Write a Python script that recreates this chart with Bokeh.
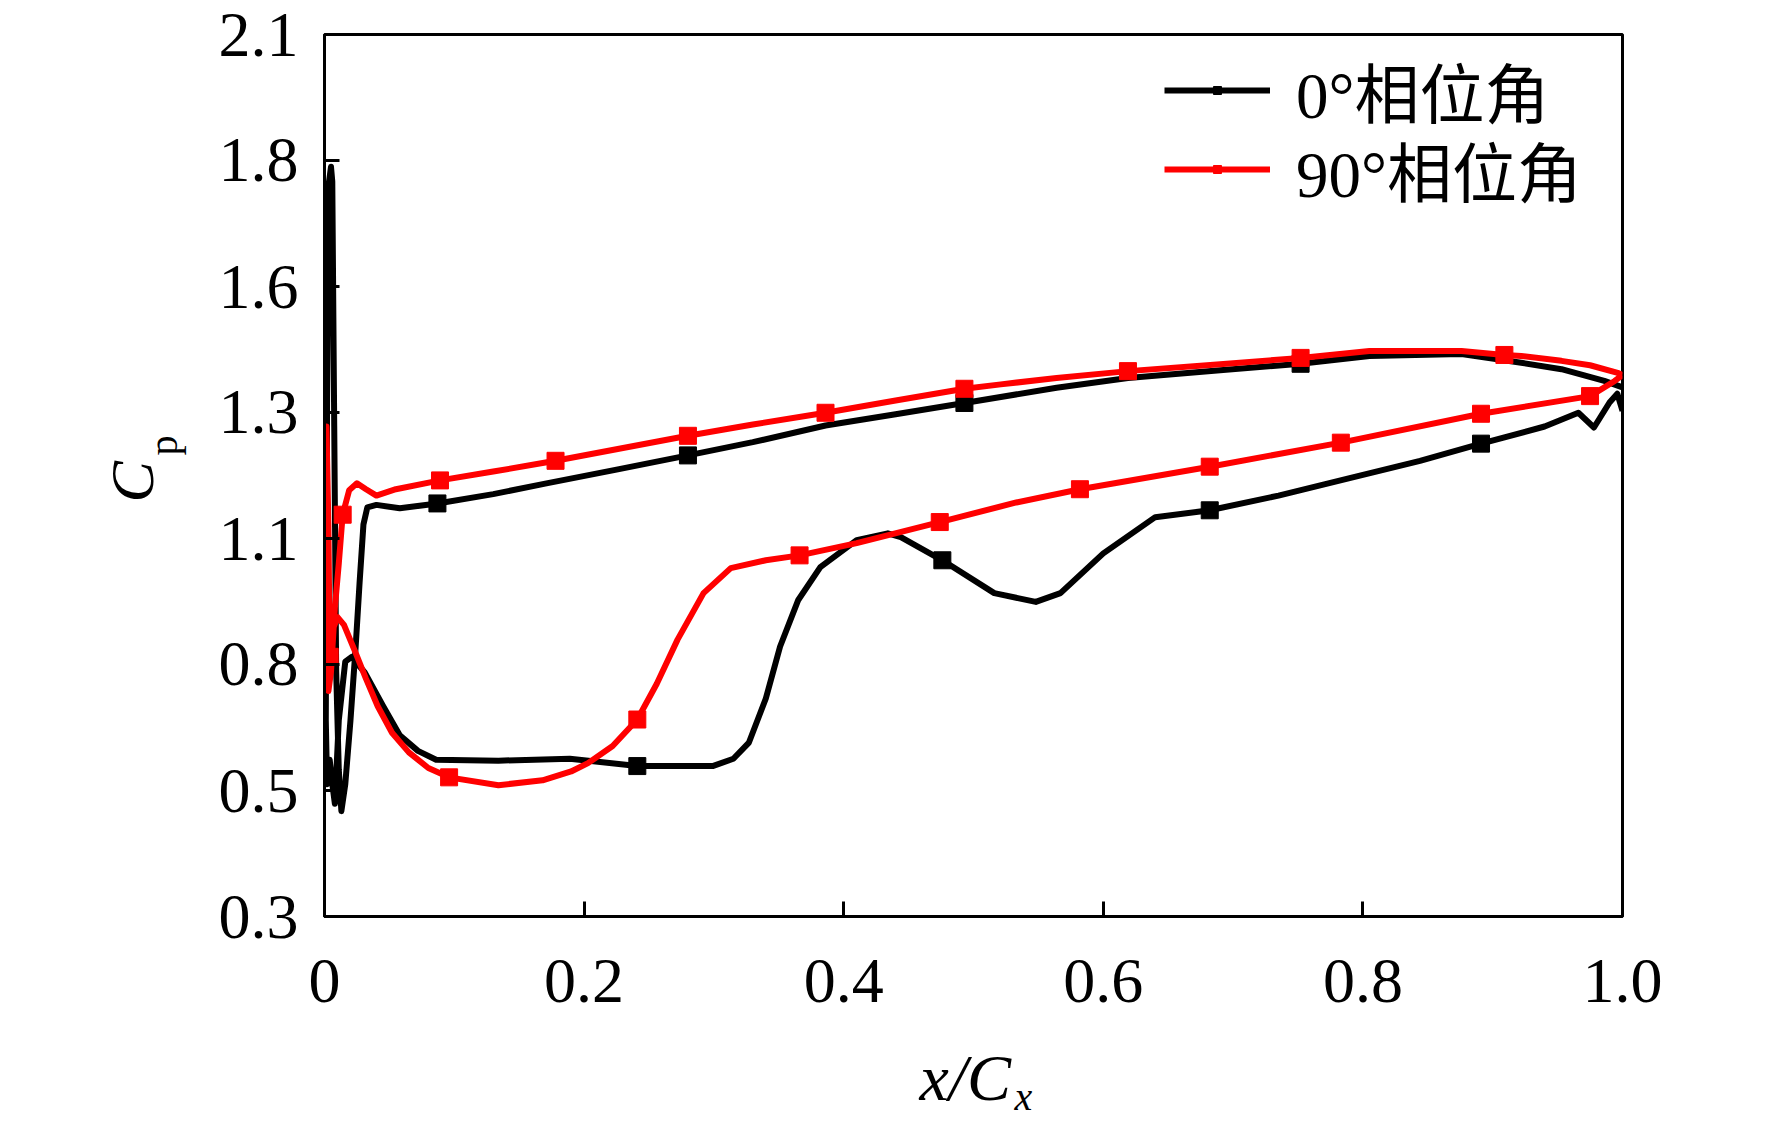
from bokeh.plotting import figure
from bokeh.models import Legend, LegendItem, Title, FixedTicker, Range1d, LinearAxis
from bokeh.embed import file_html
from bokeh.resources import INLINE

# ---- tick positions / labels ----
x_ticks = [0.0, 0.2, 0.4, 0.6, 0.8, 1.0]
x_tick_labels = ["0", "0.2", "0.4", "0.6", "0.8", "1.0"]
y_ticks = [0.3, 0.5571, 0.8143, 1.0714, 1.3286, 1.5857, 1.8429, 2.1]
y_tick_labels = ["0.3", "0.5", "0.8", "1.1", "1.3", "1.6", "1.8", "2.1"]

series_names = ["0°相位角", "90°相位角"]

# ---- 0 deg phase (black): closed loop TE -> upper -> LE -> lower -> TE ----
black_x = [1.000, 0.986, 0.953, 0.922, 0.876, 0.805, 0.752, 0.690, 0.619, 0.564,
           0.493, 0.440, 0.386, 0.330, 0.280, 0.225, 0.171, 0.130, 0.087, 0.058,
           0.040, 0.033, 0.030, 0.027, 0.024, 0.020, 0.016, 0.013, 0.011, 0.009,
           0.0075, 0.006, 0.005, 0.003, 0.002, 0.001, 0.002, 0.004, 0.006, 0.008,
           0.011, 0.016, 0.021, 0.031, 0.045, 0.058, 0.072, 0.086, 0.134, 0.189,
           0.241, 0.299, 0.315, 0.327, 0.340, 0.351, 0.365, 0.382, 0.410, 0.434,
           0.444, 0.476, 0.516, 0.548, 0.567, 0.600, 0.640, 0.682, 0.735, 0.789,
           0.844, 0.891, 0.940, 0.966, 0.978, 0.990, 0.996, 1.000]
black_y = [1.380, 1.393, 1.417, 1.430, 1.448, 1.444, 1.428, 1.415, 1.399, 1.379,
           1.348, 1.325, 1.302, 1.268, 1.241, 1.212, 1.184, 1.162, 1.143, 1.133,
           1.140, 1.135, 1.100, 0.980, 0.850, 0.700, 0.570, 0.515, 0.600, 0.800,
           1.300, 1.800, 1.830, 1.790, 1.350, 0.700, 0.570, 0.620, 0.570, 0.530,
           0.700, 0.820, 0.830, 0.798, 0.730, 0.670, 0.638, 0.620, 0.618, 0.622,
           0.607, 0.607, 0.622, 0.655, 0.745, 0.851, 0.946, 1.013, 1.068, 1.082,
           1.074, 1.027, 0.960, 0.942, 0.960, 1.041, 1.115, 1.129, 1.159, 1.194,
           1.230, 1.265, 1.300, 1.328, 1.298, 1.349, 1.367, 1.332]
black_mark_x = [0.087, 0.280, 0.493, 0.752, 0.241, 0.476, 0.682, 0.891]
black_mark_y = [1.143, 1.241, 1.348, 1.428, 0.607, 1.027, 1.129, 1.265]

# ---- 90 deg phase (red) ----
red_x = [1.000, 0.997, 0.975, 0.953, 0.922, 0.909, 0.876, 0.805, 0.752, 0.690,
         0.619, 0.564, 0.521, 0.493, 0.440, 0.386, 0.330, 0.280, 0.230, 0.178,
         0.130, 0.089, 0.055, 0.040, 0.032, 0.025, 0.019, 0.014, 0.011, 0.008,
         0.005, 0.003, 0.001, 0.0015, 0.003, 0.004, 0.007, 0.010, 0.015, 0.024,
         0.032, 0.041, 0.052, 0.065, 0.080, 0.096, 0.134, 0.168, 0.190, 0.203,
         0.222, 0.241, 0.256, 0.272, 0.292, 0.313, 0.340, 0.366, 0.410, 0.474,
         0.533, 0.582, 0.682, 0.783, 0.891, 0.975, 0.994, 1.000]
red_y = [1.405, 1.409, 1.425, 1.434, 1.444, 1.446, 1.454, 1.454, 1.440, 1.427,
         1.413, 1.399, 1.386, 1.377, 1.353, 1.328, 1.304, 1.281, 1.256, 1.230,
         1.208, 1.190, 1.172, 1.159, 1.172, 1.184, 1.170, 1.120, 1.020, 0.930,
         0.800, 0.760, 1.000, 1.300, 1.100, 0.830, 0.890, 0.911, 0.895, 0.838,
         0.785, 0.729, 0.675, 0.635, 0.603, 0.584, 0.568, 0.578, 0.596, 0.613,
         0.648, 0.702, 0.775, 0.865, 0.960, 1.011, 1.027, 1.037, 1.062, 1.105,
         1.145, 1.172, 1.218, 1.267, 1.326, 1.362, 1.393, 1.405]
red_mark_x = [0.014, 0.089, 0.178, 0.280, 0.386, 0.493, 0.619, 0.752, 0.909,
              0.004, 0.096, 0.241, 0.366, 0.474, 0.582, 0.682, 0.783, 0.891, 0.975]
red_mark_y = [1.120, 1.190, 1.230, 1.281, 1.328, 1.377, 1.413, 1.440, 1.446,
              0.830, 0.584, 0.702, 1.037, 1.105, 1.172, 1.218, 1.267, 1.326, 1.362]

SERIF = "Liberation Serif"
LEGEND_FONT = "'Liberation Serif', 'Noto Sans CJK SC'"
NB = "\u00a0"

FW, FH = 1298, 882
p = figure(frame_width=FW, frame_height=FH,
           x_range=Range1d(0, 1), y_range=Range1d(0.3, 2.1),
           output_backend="svg", toolbar_location=None,
           min_border_left=324, min_border_right=134,
           min_border_top=34, min_border_bottom=200)
p.grid.visible = False
p.outline_line_color = "black"
p.outline_line_width = 3
p.outline_line_alpha = 1.0
p.background_fill_color = "white"
p.border_fill_color = "white"

for ax in (p.xaxis[0], p.yaxis[0]):
    ax.axis_line_width = 3
    ax.major_tick_line_width = 3
    ax.major_tick_in = 15
    ax.major_tick_out = 0
    ax.minor_tick_line_color = None
    ax.major_label_text_font = SERIF
    ax.major_label_text_font_size = "64px"
    ax.major_label_text_color = "black"
    ax.axis_label_text_font = SERIF
    ax.axis_label_text_color = "black"

p.xaxis.ticker = FixedTicker(ticks=x_ticks)
p.xaxis.major_label_overrides = {t: s for t, s in zip(x_ticks, x_tick_labels)}
p.xaxis.major_label_standoff = 43
p.yaxis.ticker = FixedTicker(ticks=y_ticks)
p.yaxis.major_label_overrides = {t: s for t, s in zip(y_ticks, y_tick_labels)}
p.yaxis.major_label_standoff = 26

# x axis title "x/C" (italic) as axis label
p.xaxis.axis_label = "x/C" + NB
p.xaxis.axis_label_text_font_style = "italic"
p.xaxis.axis_label_text_font_size = "66px"
p.xaxis.axis_label_standoff = 36
# its italic subscript x: label of a bare extra axis below (no line, no ticks)
sub_axis = LinearAxis(ticker=FixedTicker(ticks=[]), axis_line_color=None,
                      major_tick_line_color=None, minor_tick_line_color=None,
                      axis_label=NB * 10 + "x", axis_label_text_font=SERIF,
                      axis_label_text_font_size="40px",
                      axis_label_text_font_style="italic",
                      axis_label_text_color="black", axis_label_standoff=-43)
p.add_layout(sub_axis, "below")

# y axis: upright subscript p as axis label, italic C as a title outside it
p.yaxis.axis_label = NB * 6 + "p"
p.yaxis.axis_label_text_font_style = "normal"
p.yaxis.axis_label_text_font_size = "40px"
p.yaxis.axis_label_standoff = 30

r_black = p.line(black_x, black_y, line_color="black", line_width=6, line_join="round")
s_black = p.scatter(black_mark_x, black_mark_y, marker="square", size=17,
                    fill_color="black", line_color="black")
r_red = p.line(red_x, red_y, line_color="#ff0000", line_width=6, line_join="round")
s_red = p.scatter(red_mark_x, red_mark_y, marker="square", size=17,
                  fill_color="#ff0000", line_color="#ff0000")

common = dict(orientation="vertical", glyph_width=106, glyph_height=20,
              label_standoff=26, label_height=20, spacing=0, padding=0, margin=0,
              border_line_alpha=0, background_fill_alpha=0,
              label_text_font=LEGEND_FONT, label_text_font_size="65px",
              label_text_color="black")
leg1 = Legend(items=[LegendItem(label=series_names[0], renderers=[r_black, s_black])],
              location=(840, 779), **common)
leg2 = Legend(items=[LegendItem(label=series_names[1], renderers=[r_red, s_red])],
              location=(840, 700), **common)
p.add_layout(leg1)
p.add_layout(leg2)

p.add_layout(Title(text="C", text_font=SERIF, text_font_size="62px",
                   text_font_style="italic", text_color="black", align="left",
                   offset=414, vertical_align="middle", standoff=-58), "left")

open("out.html", "w").write(file_html(p, INLINE))
